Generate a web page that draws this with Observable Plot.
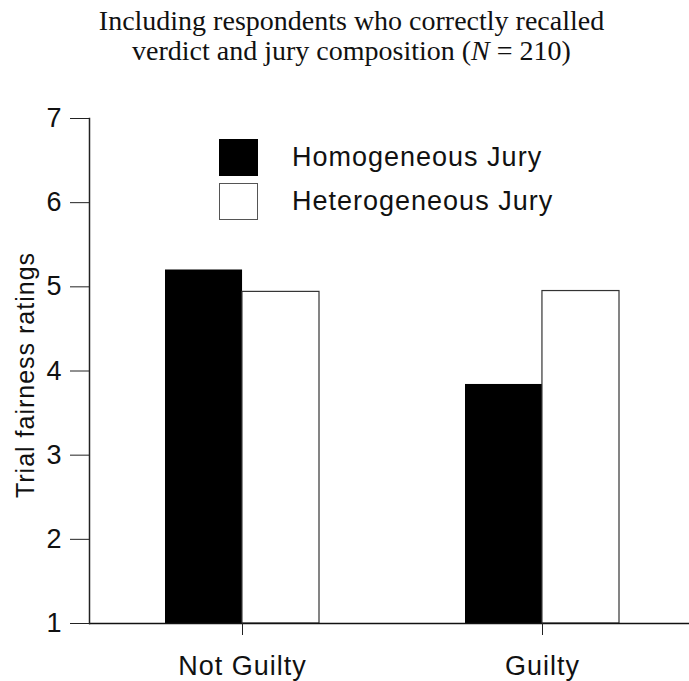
<!DOCTYPE html>
<html>
<head>
<meta charset="utf-8">
<script src="https://cdn.jsdelivr.net/npm/d3@7"></script>
<script src="https://cdn.jsdelivr.net/npm/@observablehq/plot@0.6"></script>
<style>
  html, body { margin: 0; padding: 0; background: #fff; }
  #wrap { position: relative; width: 689px; height: 681px; }
  #title { height: 95px; box-sizing: border-box; padding-top: 6px; text-align: center;
    font-family: "Liberation Serif", "Times New Roman", serif; font-size: 28px; line-height: 30px; color: #111; padding-left: 14px; }
  #legend { position: absolute; left: 219px; top: 135px; font-family: "Liberation Sans", Arial, sans-serif;
    font-size: 27px; letter-spacing: 1px; color: #111; }
  .row { display: flex; align-items: center; height: 44px; }
  .sw { width: 39px; height: 37px; box-sizing: border-box; margin-right: 34px; }
</style>
</head>
<body>
<div id="wrap">
  <div id="title">Including respondents who correctly recalled<br>verdict and jury composition (<i>N</i> = 210)</div>
  <div id="chart"></div>
  <div id="legend"></div>
</div>
<script>
const verdicts = ["Not Guilty", "Guilty"];
const juries = ["Homogeneous Jury", "Heterogeneous Jury"];
const homogeneous = [5.20, 3.84];
const heterogeneous = [4.94, 4.95];
const yTicks = [1, 2, 3, 4, 5, 6, 7];
const yLabel = "Trial fairness ratings";
const juryFill = ["#000000", "#ffffff"];

const data = [];
verdicts.forEach((v, i) => {
  data.push({verdict: v, jury: juries[0], value: homogeneous[i]});
  data.push({verdict: v, jury: juries[1], value: heterogeneous[i]});
});

const W = 689, H = 586, ML = 89, MR = 0;
const padIn = 0.487, padOut = 0.2435;
const step = (W - ML - MR) / (verdicts.length - padIn + 2 * padOut);
const half = step * (1 - padIn) / 2;

const font = "'Liberation Sans', Arial, sans-serif";

const chart = Plot.plot({
  width: W,
  height: H,
  marginLeft: ML,
  marginRight: MR,
  marginTop: 23,
  marginBottom: 58,
  style: {fontFamily: font, background: "#fff", color: "#111"},
  x: {domain: verdicts, paddingInner: padIn, paddingOuter: padOut, align: 0.52, label: null},
  y: {domain: [1, 7], ticks: yTicks, label: null},
  marks: [
    Plot.barY(data.filter(d => d.jury === juries[0]), {
      x: "verdict", y1: 1, y2: "value", fill: juryFill[0], insetRight: half
    }),
    Plot.barY(data.filter(d => d.jury === juries[1]), {
      x: "verdict", y1: 1, y2: "value", fill: juryFill[1], stroke: "#333", strokeWidth: 1.2, insetLeft: half
    }),
    Plot.ruleY([1], {stroke: "#111", strokeWidth: 1.5}),
    Plot.frame({anchor: "left", stroke: "#222", strokeWidth: 1.5}),
    Plot.axisY({ticks: yTicks, tickFormat: "d", tickSize: 19, tickPadding: 8, fontSize: 27, stroke: "#222", label: null}),
    Plot.axisX({tickSize: 12, tickPadding: 20, fontSize: 27, stroke: "#222", label: null}),
    Plot.text([yLabel], {text: d => d, frameAnchor: "left", rotate: -90, dx: -64, dy: 4,
      fontSize: 25, textAnchor: "middle", lineAnchor: "middle", fill: "#111"})
  ]
});
chart.querySelectorAll("text").forEach(t => t.style.letterSpacing = "1px");
document.getElementById("chart").appendChild(chart);

const legend = document.getElementById("legend");
juries.forEach((j, i) => {
  const row = document.createElement("div");
  row.className = "row";
  const sw = document.createElement("div");
  sw.className = "sw";
  sw.style.background = juryFill[i];
  sw.style.border = i === 0 ? "none" : "1.5px solid #555";
  const lab = document.createElement("span");
  lab.textContent = j;
  row.appendChild(sw); row.appendChild(lab);
  legend.appendChild(row);
});
</script>
</body>
</html>
